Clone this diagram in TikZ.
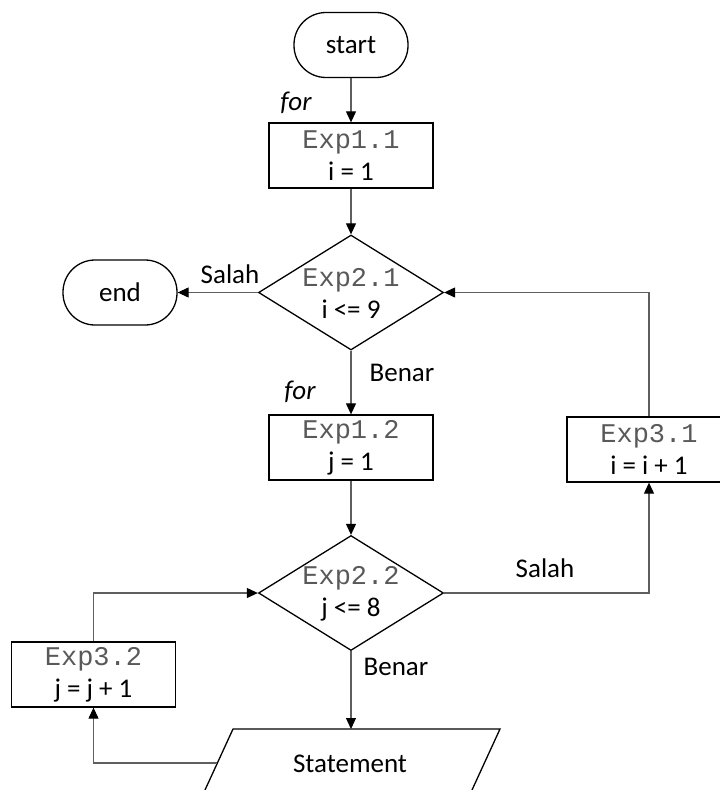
\documentclass[tikz,border=0pt]{standalone}
\usepackage{fontspec}
\setmainfont{Carlito}
\newfontfamily\monof{Liberation Mono}
\usetikzlibrary{arrows.meta,shapes.geometric}
\definecolor{linegray}{HTML}{5F5F5F}
\definecolor{expgray}{HTML}{595959}
\begin{document}
\begin{tikzpicture}[x=1pt,y=-1pt,
  font=\fontsize{27}{32}\selectfont,
  box/.style={draw, line width=1.3pt, minimum width=164pt, minimum height=65pt, inner sep=0pt, align=center},
  term/.style={draw, line width=1.3pt, rounded corners=32pt, minimum width=114pt, minimum height=65pt, inner sep=0pt},
  dia/.style={draw, diamond, line width=1.3pt, minimum width=185pt, minimum height=115pt, inner sep=0pt},
  dtext/.style={align=center, inner sep=0pt},
  conn/.style={draw=linegray, line width=1.1pt, -{Triangle[length=11pt,width=10pt,black]}},
  lbl/.style={inner sep=0pt, anchor=base},
  ex/.style={}
]
\useasboundingbox (0,0) rectangle (720,790);
\newcommand{\ex}[1]{{\monof\color{expgray}#1}}

\node[term] (start) at (351,45) {start};
\node[box] (box1) at (351,155.5) {\ex{Exp1.1}\\ i = 1};
\node[dia] (d1) at (351,292.5) {};
\node[dtext] (d1t) at (351,293) {\ex{Exp2.1}\\ i <= 9};
\node[term] (end) at (120,292.5) {end};
\node[box] (box2) at (351,447.5) {\ex{Exp1.2}\\ j = 1};
\node[dia] (d2) at (351,593) {};
\node[dtext] (d2t) at (351,593.5) {\ex{Exp2.2}\\ j <= 8};
\node[box] (box3) at (649,449.5) {\ex{Exp3.1}\\ i = i + 1};
\node[box] (box4) at (93.5,674.5) {\ex{Exp3.2}\\ j = j + 1};

% Statement parallelogram (cut by the page edge)
\coordinate (sTL) at (233,729);
\coordinate (sTR) at (500,729);
\coordinate (sBL) at (200.4,800);
\coordinate (sBR) at (467.4,800);
\coordinate (sT) at (351,729);
\coordinate (sL) at (217.4,763);
\draw[line width=1.3pt] (sBL) -- (sTL) -- (sTR) -- (sBR);
\node[lbl] (stmt) at (350,772) {Statement};

% labels
\node[lbl] (for1) at (296,110) {\itshape for};
\node[lbl] (for2) at (300,399) {\itshape for};
\node[lbl] (salah1) at (230,283) {Salah};
\node[lbl] (benar1) at (402,381) {Benar};
\node[lbl] (salah2) at (545,577) {Salah};
\node[lbl] (benar2) at (396,675) {Benar};

% connectors
\draw[conn] (start.south) -- (box1.north);
\draw[conn] (box1.south) -- (d1.north);
\draw[conn] (d1.west) -- (end.east);
\draw[conn] (d1.south) -- (box2.north);
\draw[conn] (box2.south) -- (d2.north);
\draw[conn] (d2.south) -- (sT);
\draw[conn] (d2.east) -| (box3.south);
\draw[conn] (box3.north) |- (d1.east);
\draw[conn] (sL) -| (box4.south);
\draw[conn] (box4.north) |- (d2.west);
\end{tikzpicture}
\end{document}
